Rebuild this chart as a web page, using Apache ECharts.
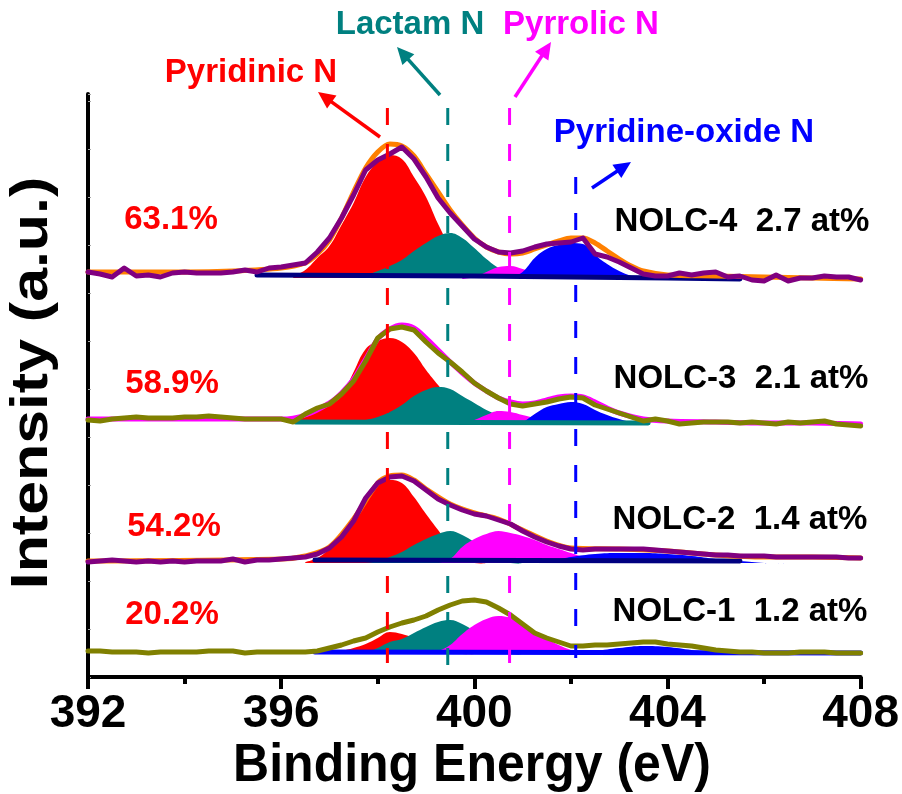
<!DOCTYPE html>
<html>
<head>
<meta charset="utf-8">
<script src="https://cdn.jsdelivr.net/npm/echarts@6/dist/echarts.min.js"></script>
<style>html,body{margin:0;padding:0;background:#fff;}#chart{width:902px;height:794px;}</style>
</head>
<body>
<div id="chart"></div>
<script>
// ---------------- data (binding energy in eV, intensity in a.u.) ----------------
const ENERGY = [392,392.25,392.5,392.75,393,393.25,393.5,393.75,394,394.25,394.5,394.75,395,395.25,395.5,395.75,
  396,396.25,396.5,396.75,397,397.25,397.5,397.75,398,398.25,398.5,398.75,399,399.25,399.5,399.75,
  400,400.25,400.5,400.75,401,401.25,401.5,401.75,402,402.25,402.5,402.75,403,403.25,403.5,403.75,
  404,404.25,404.5,404.75,405,405.25,405.5,405.75,406,406.25,406.5,406.75,407,407.25,407.5,407.75,408];

const SAMPLES = ['NOLC-4', 'NOLC-3', 'NOLC-2', 'NOLC-1'];
const N_CONTENT = ['2.7 at%', '2.1 at%', '1.4 at%', '1.2 at%'];
const PYRIDINIC_SHARE = ['63.1%', '58.9%', '54.2%', '20.2%'];
const OFFSETS = [397, 252, 112, 21];   // vertical stacking offsets (a.u.)

// measured spectra (relative to each stacking offset)
const EXP_NOLC4 = [8,6,3,12,4,5,3,7,8,7,7,7,8,10,8,12,
  13,15,17,28,42,62,85,110,120,126,133,121,103,82,67,54,
  41,33,28,27,29,33,36,37,38,42,26,23,18,12,6,4,
  4,7,5,7,8,3,4,0,-1,5,-1,2,2,4,3,3,0];
const EXP_NOLC3 = [5,4,6,7,8,7,7,7,8,8,9,8,7,6,6,6,
  6,3,11,17,21,31,44,64,87,96,98,95,83,72,63,53,
  42,34,27,21,19,21,23,26,28,27,20,16,12,8,4,6,
  4,1,2,3,3,3,2,3,2,1,3,2,3,4,1,0,-1];
const EXP_NOLC2 = [3,4,5,4,3,4,3,4,3,4,4,4,6,3,5,5,
  6,7,8,11,17,28,44,67,82,88,89,84,75,66,60,55,
  51,49,45,41,34,28,23,19,16,15,16,16,16,16,16,15,
  14,13,12,11,10,10,9,9,9,8,8,8,8,8,8,7,7];
const EXP_NOLC1 = [5,5,4,4,4,3,4,4,4,4,5,5,5,3,4,4,
  4,4,4,5,8,11,15,18,24,29,33,36,40,46,51,55,
  56,54,48,41,32,23,18,14,10,10,11,11,12,13,14,14,
  12,11,10,8,6,5,4,4,3,3,3,4,4,4,3,3,3];

// fitted envelopes
const FIT_NOLC4 = [[392,8],[394,8],[395,9],[396,12],[396.5,17],[396.75,26],[397,40],[397.25,62],[397.5,88],[397.75,112],[398,128],[398.25,136],[398.5,134],[398.75,124],[399,106],[399.25,88],[399.5,70],[399.75,55],[400,42],[400.25,33],[400.5,28],[400.75,26],[401,27],[401.25,31],[401.5,35],[401.75,39],[402,42],[402.25,42],[402.5,37],[402.75,29],[403,21],[403.25,14],[403.5,9],[404,5],[405,4],[406,3],[407,2],[408,1]];
const FIT_NOLC3 = [[392,6],[396,6],[396.5,10],[397,22],[397.25,32],[397.5,46],[397.75,66],[398,86],[398.25,96],[398.5,100],[398.75,97],[399,87],[399.25,75],[399.5,63],[399.75,52],[400,42],[400.25,34],[400.5,27],[400.75,23],[401,21],[401.25,22],[401.5,25],[401.75,28],[402,29],[402.25,28],[402.5,23],[402.75,17],[403,12],[403.5,6],[404,4],[405,3],[406,2],[407,2],[408,1]];
const FIT_NOLC2 = [[392,4],[396,6],[396.5,9],[397,18],[397.5,46],[398,82],[398.25,89],[398.5,90],[398.75,85],[399,76],[399.5,61],[400,52],[400.5,46],[401,35],[401.5,24],[402,17],[403,16],[404,14],[405,10],[406,8],[407,8],[408,7]];

// fitted components: pyridinic, lactam, pyrrolic, pyridine-oxide
const PYRIDINIC_4 = [[396.25,4],[396.5,10],[396.75,22],[397,34],[397.25,55],[397.5,77],[397.75,103],[398,118],[398.25,125],[398.5,121],[398.75,103],[399,83],[399.25,56],[399.5,33],[399.75,16],[400,6],[400.25,2]];
const LACTAM_4 = [[397.5,2],[397.75,5],[398,9],[398.25,14],[398.5,20],[398.75,29],[399,37],[399.25,44],[399.5,47],[399.75,42],[400,32],[400.25,21],[400.5,12],[400.75,5],[401,2],[401.25,0]];
const PYRROLIC_4 = [[399.75,1],[400,3],[400.25,8],[400.5,13],[400.75,14],[401,11],[401.25,7],[401.5,4],[401.75,2],[402,1]];
const OXIDE_4 = [[400.75,2],[401,8],[401.25,22],[401.5,31],[401.75,35],[402,37],[402.25,36],[402.5,25],[402.75,16],[403,9],[403.25,4],[403.5,1]];

const PYRIDINIC_3 = [[396.25,4],[396.5,8],[396.75,13],[397,20],[397.25,29],[397.5,53],[397.75,76],[398,84],[398.25,87],[398.5,83],[398.75,72],[399,55],[399.25,40],[399.5,26],[399.75,14],[400,6],[400.25,2]];
const LACTAM_3 = [[397.5,3],[397.75,5],[398,8],[398.25,13],[398.5,20],[398.75,29],[399,35],[399.25,38],[399.5,36],[399.75,29],[400,22],[400.25,15],[400.5,10],[400.75,6],[401,3],[401.25,1]];
const PYRROLIC_3 = [[399.75,2],[400,5],[400.25,10],[400.5,14],[400.75,13],[401,10],[401.25,7],[401.5,4],[401.75,2],[402,1]];
const OXIDE_3 = [[400.75,1],[401,3],[401.25,11],[401.5,18],[401.75,21],[402,23],[402.25,21],[402.5,15],[402.75,10],[403,6],[403.25,3],[403.5,1]];

const PYRIDINIC_2 = [[396.5,3],[396.75,7],[397,16],[397.25,28],[397.5,45],[397.75,65],[398,79],[398.25,85],[398.5,82],[398.75,68],[399,51],[399.25,35],[399.5,20],[399.75,10],[400,4],[400.25,1]];
const LACTAM_2 = [[397.75,2],[398,4],[398.25,8],[398.5,13],[398.75,20],[399,26],[399.25,31],[399.5,34],[399.75,30],[400,23],[400.25,15],[400.5,8],[400.75,4],[401,1]];
const PYRROLIC_2 = [[399.25,2],[399.5,6],[399.75,18],[400,26],[400.25,31],[400.5,34],[400.75,32],[401,29],[401.25,25],[401.5,20],[401.75,16],[402,12],[402.25,8],[402.5,4],[402.75,2]];
const OXIDE_2 = [[401.5,3],[402,8],[402.5,11],[403,12],[403.5,12],[404,11],[404.5,9],[405,6],[405.5,4],[406,2],[406.5,1]];

const PYRIDINIC_1 = [[397,2],[397.25,5],[397.5,8],[397.75,12],[398,18],[398.25,24],[398.5,22],[398.75,18],[399,13],[399.25,9],[399.5,5],[399.75,2],[400,1]];
const LACTAM_1 = [[397.75,3],[398,8],[398.25,14],[398.5,17],[398.75,23],[399,29],[399.25,34],[399.5,36],[399.75,32],[400,25],[400.25,17],[400.5,9],[400.75,4],[401,1]];
const PYRROLIC_1 = [[399,2],[399.25,5],[399.5,11],[399.75,22],[400,31],[400.25,37],[400.5,40],[400.75,38],[401,32],[401.25,24],[401.5,17],[401.75,11],[402,6],[402.25,3],[402.5,1]];
const OXIDE_1 = [[402,2],[402.5,5],[403,8],[403.5,10],[404,9],[404.5,6],[405,3],[405.5,1]];

// backgrounds
const BG_4 = [[395.5,5],[400,4],[404,2],[405.5,1]];
const BG_3 = [[396.3,3],[403.6,2]];
const BG_2 = [[396.7,5],[405.5,4]];
const BG_1 = [[396.7,4],[408,3]];

// peak reference positions (eV) and dashed-line extents (a.u.)
const PEAK_POS = [398.2, 399.45, 400.73, 402.1];
const PEAK_NAMES = ['Pyridinic N', 'Lactam N', 'Pyrrolic N', 'Pyridine-oxide N'];
const PEAK_LINE_TOP = [569, 569, 569, 500];
const PEAK_LINE_BOTTOM = [14, 12, 14, 19];

const X_TICKS = [392, 396, 400, 404, 408];

// ---------------- styles ----------------
const C = { red:'#ff0000', teal:'#008080', mag:'#ff00ff', blue:'#0000ff', navy:'#000080', purple:'#800080', olive:'#808000', orange:'#ff8000' };
const FONT = '"Liberation Sans", Arial, sans-serif';

const series = [];
function shift(pairs, off){ return pairs.map(p => [p[0], p[1] + off]); }
function expData(vals, off){ return ENERGY.map((e, i) => [e, vals[i] + off]); }
function comp(pairs, off, color){
  series.push({ type:'line', data: shift(pairs, off), smooth:0.4, symbol:'none', silent:true, z:2,
    lineStyle:{ width:0 }, areaStyle:{ color, opacity:1, origin: off + 2 } });
}
function line(data, color, width, z, smooth){
  series.push({ type:'line', data, smooth: smooth || false, symbol:'none', silent:true, z,
    lineStyle:{ color, width, join:'round', cap:'round' } });
}

const spectra = [
  { exp:EXP_NOLC4, fit:FIT_NOLC4, fitColor:C.orange, expColor:C.purple, comps:[PYRIDINIC_4, LACTAM_4, PYRROLIC_4, OXIDE_4], bg:BG_4, bgColor:C.navy },
  { exp:EXP_NOLC3, fit:FIT_NOLC3, fitColor:C.mag, expColor:C.olive, comps:[PYRIDINIC_3, LACTAM_3, PYRROLIC_3, OXIDE_3], bg:BG_3, bgColor:C.teal },
  { exp:EXP_NOLC2, fit:FIT_NOLC2, fitColor:C.orange, expColor:C.purple, comps:[PYRIDINIC_2, LACTAM_2, PYRROLIC_2, OXIDE_2], bg:BG_2, bgColor:C.navy },
  { exp:EXP_NOLC1, fit:null, fitColor:null, expColor:C.olive, comps:[PYRIDINIC_1, LACTAM_1, PYRROLIC_1, OXIDE_1], bg:BG_1, bgColor:C.blue }
];
const compColors = [C.red, C.teal, C.mag, C.blue];

spectra.forEach((s, k) => {
  const off = OFFSETS[k];
  s.comps.forEach((c, j) => comp(c, off, compColors[j]));
  line(shift(s.bg, off), s.bgColor, 5, 3);
  if (s.fit) line(shift(s.fit, off), s.fitColor, 5, 4, 0.3);
  line(expData(s.exp, off), s.expColor, 5, 5);
});

// dashed reference lines at peak positions
PEAK_POS.forEach((e, j) => {
  series.push({ type:'line', data:[[e, PEAK_LINE_TOP[j]], [e, PEAK_LINE_BOTTOM[j]]], symbol:'none', silent:true, z:6,
    lineStyle:{ color: compColors[j], width:3, type:[17, 19] } });
});

// ---------------- annotations ----------------
const graphic = [];
function text(str, x, y, color, size, extra){
  graphic.push(Object.assign({ type:'text', x, y, z:100, silent:true,
    style:{ text:str, fill:color, font:'bold ' + size + 'px ' + FONT, align:'center', verticalAlign:'middle' } }, extra || {}));
}
function arrow(x1, y1, x2, y2, color){
  const dx = x2 - x1, dy = y2 - y1, L = Math.hypot(dx, dy), ux = dx / L, uy = dy / L;
  const hl = 17, hw = 8;
  const bx = x2 - ux * hl, by = y2 - uy * hl;
  graphic.push({ type:'line', z:100, silent:true, shape:{ x1, y1, x2: bx + ux * 2, y2: by + uy * 2 }, style:{ stroke:color, lineWidth:3.5 } });
  graphic.push({ type:'polygon', z:100, silent:true, shape:{ points:[[x2, y2], [bx - uy * hw, by + ux * hw], [bx + uy * hw, by - ux * hw]] }, style:{ fill:color } });
}
const peakLabelPos = [[251, 73], [410, 25], [581, 25], [684, 133]];
const arrows = [[380, 137, 318, 92], [440, 95, 397, 47], [515, 97, 551, 42], [592, 188, 631, 162]];
PEAK_NAMES.forEach((n, j) => {
  text(n, peakLabelPos[j][0], peakLabelPos[j][1], compColors[j], 33);
  arrow(...arrows[j], compColors[j]);
});
const pctPos = [[171, 220], [172, 384], [174, 527], [172, 615]];
const samplePos = [[742, 222], [741, 379], [740, 520], [740, 612]];
SAMPLES.forEach((s, k) => {
  text(PYRIDINIC_SHARE[k], pctPos[k][0], pctPos[k][1], C.red, 33);
  text(s + '  ' + N_CONTENT[k], samplePos[k][0], samplePos[k][1], '#000', 33);
});
text('Intensity (a.u.)', 33, 383, '#000', 52, { rotation: Math.PI / 2, scaleX: 1.17 });
text('Binding Energy (eV)', 472, 766, '#000', 50, { scaleY: 1.08 });

const chart = echarts.init(document.getElementById('chart'), null, { renderer:'canvas' });
chart.setOption({
  animation:false,
  backgroundColor:'#fff',
  grid:{ left:88, right:36, top:94, bottom:117 },
  xAxis:{ type:'value', min:392, max:408, interval:4,
    axisLine:{ lineStyle:{ color:'#000', width:4 } },
    axisTick:{ show:true, inside:false, length:12, lineStyle:{ color:'#000', width:4 } },
    minorTick:{ show:true, splitNumber:2, length:7, lineStyle:{ color:'#000', width:4 } },
    splitLine:{ show:false },
    axisLabel:{ margin:14, color:'#000', fontFamily:'"Liberation Sans Narrow", "Liberation Sans", Arial', fontWeight:'bold', fontSize:46,
      formatter: v => X_TICKS.includes(v) ? String(v) : '' } },
  yAxis:{ type:'value', min:0, max:583, interval:48,
    axisLine:{ show:true, lineStyle:{ color:'#000', width:4 } },
    axisTick:{ show:true, inside:true, length:3, lineStyle:{ color:'#aaa', width:1 } },
    axisLabel:{ show:false }, splitLine:{ show:false } },
  series,
  graphic
});
</script>
</body>
</html>
